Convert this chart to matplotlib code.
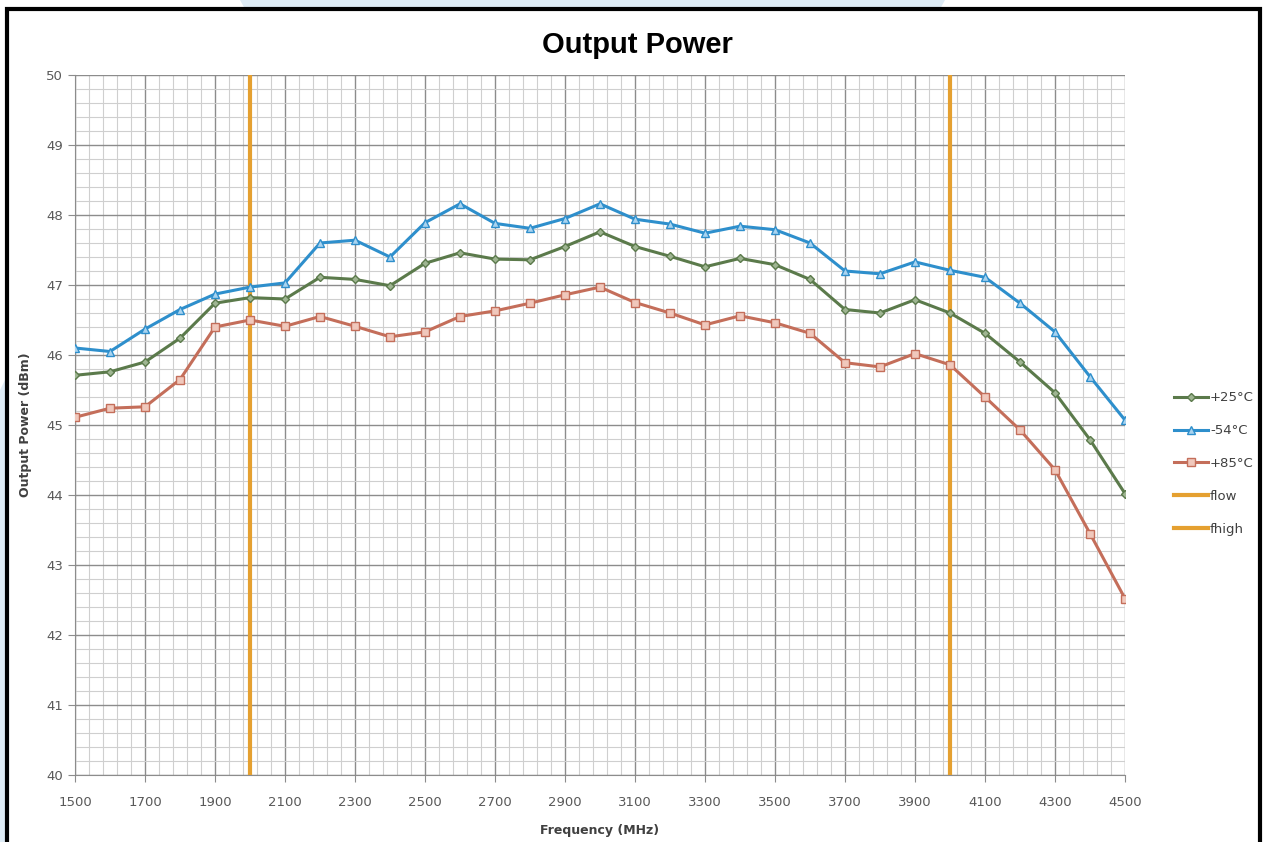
import matplotlib
matplotlib.use("Agg")
import matplotlib.pyplot as plt
from matplotlib.ticker import MultipleLocator, FixedLocator
from matplotlib.patches import Rectangle, Polygon

freq = [1500, 1600, 1700, 1800, 1900, 2000, 2100, 2200, 2300, 2400, 2500, 2600, 2700, 2800, 2900, 3000,
        3100, 3200, 3300, 3400, 3500, 3600, 3700, 3800, 3900, 4000, 4100, 4200, 4300, 4400, 4500]
p25 = [45.71, 45.76, 45.90, 46.24, 46.74, 46.82, 46.80, 47.11, 47.08, 46.99, 47.31, 47.46, 47.37, 47.36, 47.55, 47.76,
       47.55, 47.41, 47.26, 47.38, 47.29, 47.08, 46.65, 46.60, 46.79, 46.60, 46.31, 45.90, 45.46, 44.79, 44.02]
m54 = [46.10, 46.05, 46.37, 46.65, 46.87, 46.97, 47.03, 47.60, 47.64, 47.40, 47.89, 48.16, 47.88, 47.81, 47.95, 48.16,
       47.94, 47.87, 47.74, 47.84, 47.79, 47.60, 47.20, 47.16, 47.33, 47.21, 47.11, 46.74, 46.33, 45.69, 45.07]
p85 = [45.11, 45.24, 45.26, 45.65, 46.40, 46.50, 46.41, 46.55, 46.41, 46.26, 46.33, 46.55, 46.63, 46.74, 46.86, 46.97,
       46.75, 46.60, 46.43, 46.56, 46.46, 46.31, 45.89, 45.83, 46.02, 45.86, 45.40, 44.93, 44.36, 43.45, 42.52]
f_low = 2000
f_high = 4000
x_ticks = list(range(1500, 4501, 200))
x_minor = list(range(1500, 4501, 40))
labels = ["+25°C", "-54°C", "+85°C", "flow", "fhigh"]

fig = plt.figure(figsize=(12.65, 8.42), dpi=100)
W, H = 1265, 842

# decorative light-blue background and black frame
fig.patches.append(Polygon([[240 / W, 1], [945 / W, 1], [940 / W, 1 - 9 / H], [245 / W, 1 - 9 / H]],
                           closed=True, transform=fig.transFigure, facecolor="#deebf5", edgecolor="none", zorder=0))
fig.patches.append(Polygon([[0, 1 - 390 / H], [5 / W, 1 - 380 / H], [5 / W, 0], [0, 0]],
                           closed=True, transform=fig.transFigure, facecolor="#deebf5", edgecolor="none", zorder=0))
fig.patches.append(Rectangle((6.5 / W, -0.01), (1260 - 6.5) / W, 1 - 9 / H + 0.01, transform=fig.transFigure,
                             facecolor="none", edgecolor="black", linewidth=3, zorder=1))

ax = fig.add_axes([75 / W, 1 - 775 / H, (1125 - 75) / W, (775 - 75) / H])
ax.set_xlim(1500, 4500)
ax.set_ylim(40, 50)

ax.xaxis.set_major_locator(FixedLocator(x_ticks))
ax.xaxis.set_minor_locator(FixedLocator(x_minor))
ax.yaxis.set_major_locator(MultipleLocator(1))
ax.yaxis.set_minor_locator(MultipleLocator(0.2))
ax.grid(which="major", color="#8c8c8c", linewidth=1.0, zorder=0)
ax.grid(which="minor", color="#cfcfcf", linewidth=0.8, zorder=0)
ax.set_axisbelow(True)
for s in ["top", "right"]:
    ax.spines[s].set_visible(False)
for s in ["left", "bottom"]:
    ax.spines[s].set_color("#8c8c8c")
ax.tick_params(which="major", length=5, color="#8c8c8c", labelcolor="#595959", labelsize=9.5)
ax.tick_params(which="minor", length=0)
ax.tick_params(axis="x", pad=10)

ax.plot(freq, p25, color="#5b7a4b", linewidth=2.2, marker="D", markersize=4.5,
        markerfacecolor="#9fb592", markeredgecolor="#5b7a4b", label=labels[0], zorder=4)
ax.plot(freq, m54, color="#2e8fcc", linewidth=2.2, marker="^", markersize=6,
        markerfacecolor="#a9d3ef", markeredgecolor="#2e8fcc", label=labels[1], zorder=4)
ax.plot(freq, p85, color="#c46e5a", linewidth=2.2, marker="s", markersize=6,
        markerfacecolor="#f0c8bc", markeredgecolor="#c46e5a", label=labels[2], zorder=4)
ax.axvline(f_low, color="#e5a030", linewidth=3, label=labels[3], zorder=3)
ax.axvline(f_high, color="#e5a030", linewidth=3, label=labels[4], zorder=3)

ax.set_xlabel("Frequency (MHz)", fontsize=9, fontweight="bold", color="#404040", labelpad=11)
ax.set_ylabel("Output Power (dBm)", fontsize=9, fontweight="bold", color="#404040", labelpad=10)
fig.text(637 / W, 1 - 45 / H, "Output Power", ha="center", va="center", fontsize=21,
         fontweight="bold", family=["Liberation Sans", "DejaVu Sans"])

leg = ax.legend(loc="center left", bbox_to_anchor=(1.035, 0.445), frameon=False, fontsize=9.5,
                labelspacing=1.5, handlelength=2.6, handletextpad=0.15)
for t in leg.get_texts():
    t.set_color("#404040")

fig.savefig("out.png", dpi=100)
